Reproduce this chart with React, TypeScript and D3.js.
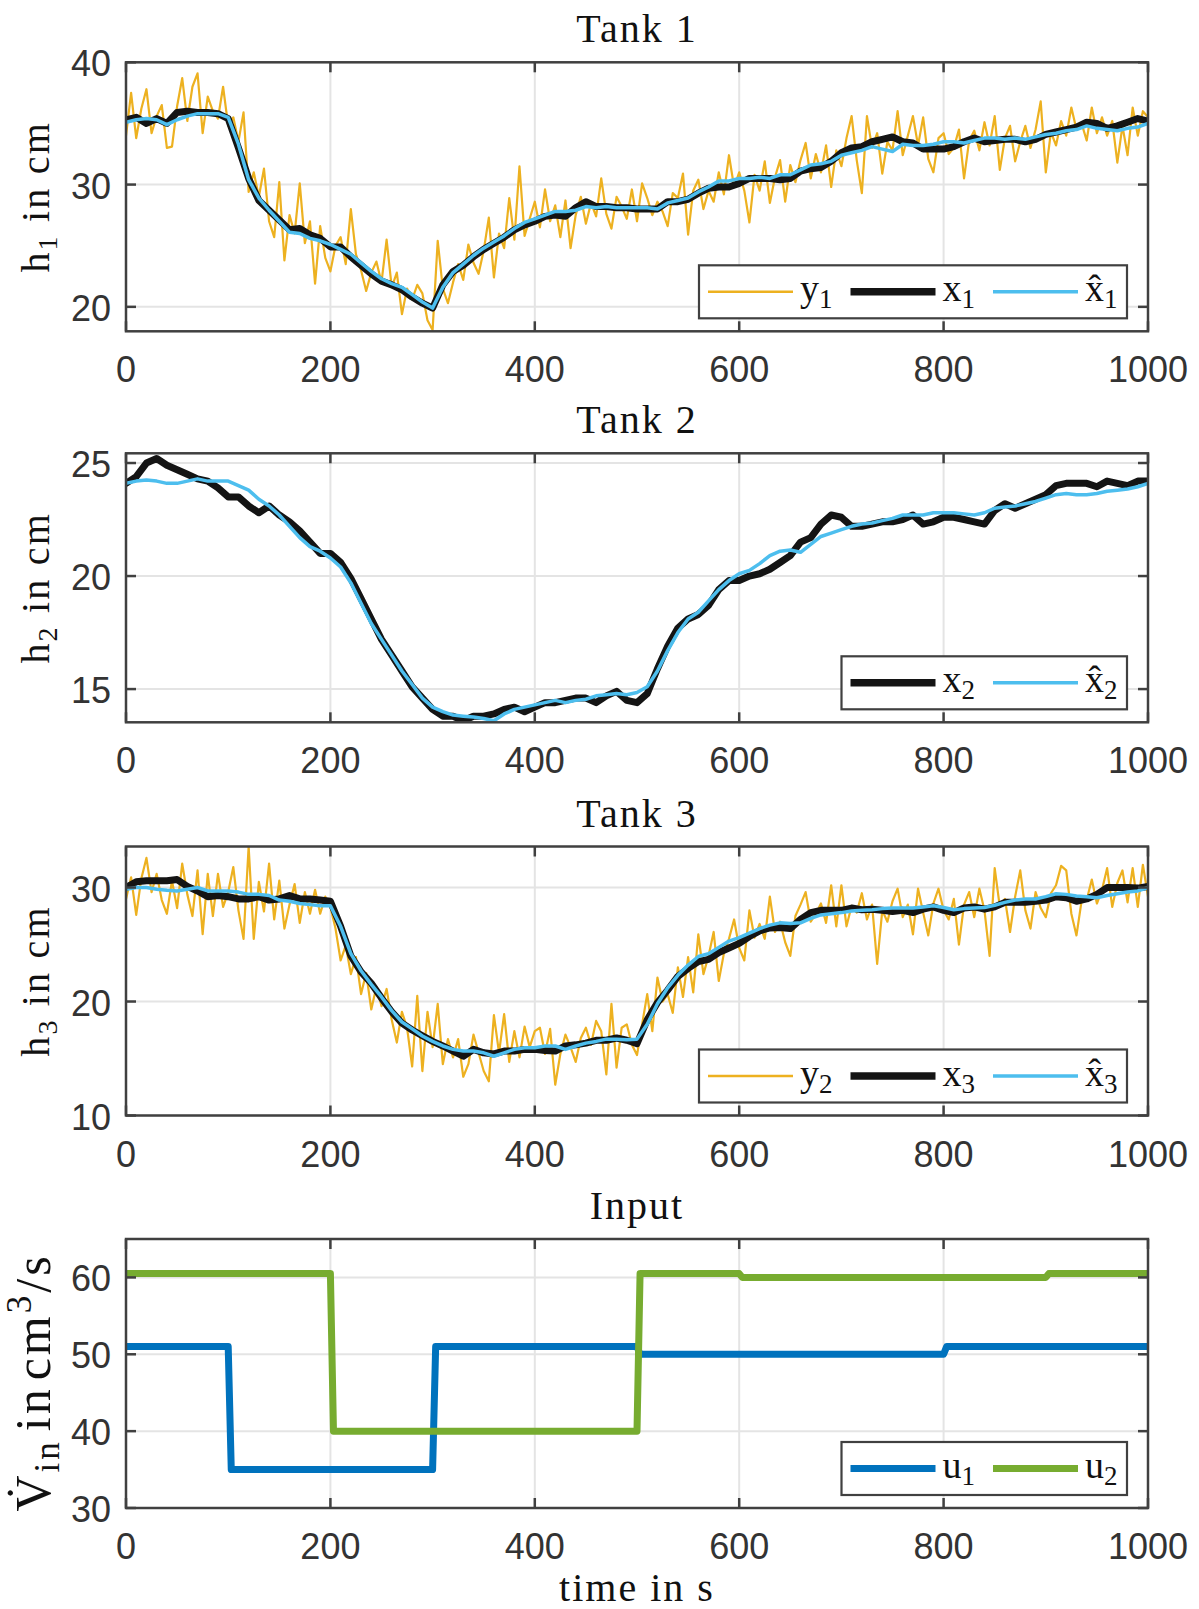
import React from 'react';
import * as d3 from 'd3';

// ---------------- DATA ----------------
// sample step of the noisy measurements (s) and of the states (s)
const FAST_STEP = 5;
const SLOW_STEP = 10;

const xTicks = [0, 200, 400, 600, 800, 1000];

// Tank 1 measurement y1 (every 5 s)
const y1 = [
  34.0, 37.5, 33.8, 36.2, 37.8, 34.2, 35.6, 36.5, 33.0, 33.1,
  36.4, 38.7, 35.2, 38.0, 39.1, 34.2, 37.2, 36.0, 35.4, 38.0,
  34.8, 35.5, 33.5, 35.9, 29.4, 31.0, 29.0, 31.3, 27.0, 25.7,
  30.2, 23.8, 27.5, 26.0, 30.1, 25.2, 27.0, 21.9, 26.6, 24.0,
  22.9, 25.0, 25.7, 23.5, 28.0, 24.3, 23.0, 21.3, 22.8, 23.7,
  22.0, 25.5, 21.6, 22.8, 19.4, 21.5, 20.6, 21.8, 21.1, 18.9,
  18.1, 25.4, 21.5, 20.3, 22.0, 23.5, 22.2, 25.1, 23.6, 22.7,
  24.6, 27.3, 22.4, 26.0, 24.8, 28.9, 25.5, 31.5, 25.8, 27.2,
  28.6, 26.5, 29.6, 27.0, 28.3, 25.7, 28.7, 24.8, 27.5, 29.0,
  26.8, 28.5, 27.4, 30.5, 27.6, 26.4, 29.0, 28.2, 27.2, 29.6,
  27.0, 30.1, 28.9, 27.5, 28.6, 27.8, 26.6, 29.3, 28.9, 30.9,
  25.9, 29.5, 30.4, 28.0, 29.5, 28.6, 31.0, 29.2, 32.4, 29.8,
  31.0, 29.5, 26.9, 30.8, 29.5, 31.9, 28.5, 30.6, 32.0, 28.6,
  31.6, 30.2, 32.0, 33.4, 30.5, 32.5, 31.0, 33.2, 29.8, 32.8,
  31.5, 33.8, 35.6, 32.0, 29.3, 35.6, 33.0, 34.2, 30.9, 33.5,
  32.8, 36.0, 32.4, 34.0, 35.6, 33.2, 35.5, 32.1, 31.0, 33.8,
  34.2, 32.5, 33.0, 34.5, 30.5, 33.6, 34.4, 32.8, 35.1, 33.2,
  35.6, 31.2, 33.8, 34.8, 31.9, 33.5, 34.8, 33.0, 34.5, 36.8,
  31.0, 34.3, 33.2, 35.2, 34.0, 36.3, 34.5, 35.0, 33.6, 36.3,
  34.2, 35.5, 34.0, 35.2, 31.8, 34.8, 32.4, 36.3, 34.0, 36.0,
  35.5,
];

// Tank 1 true state x1 (every 10 s)
const x1 = [
  35.3, 35.5, 35.0, 35.4, 35.0, 35.9, 36.0, 35.9, 35.9, 35.8, 35.4,
  33.0, 30.5, 28.7, 27.9, 27.1, 26.3, 26.4, 25.9, 25.6, 24.9,
  24.9, 24.1, 23.4, 22.7, 22.1, 21.8, 21.4, 20.8, 20.3, 19.9,
  21.8, 22.9, 23.4, 24.1, 24.7, 25.2, 25.7, 26.3, 26.7, 27.0,
  27.4, 27.5, 27.4, 28.1, 28.6, 28.2, 28.2, 28.1, 28.1, 28.0,
  28.0, 28.0, 28.6, 28.6, 28.8, 29.3, 29.7, 29.8, 29.8, 30.1,
  30.5, 30.5, 30.5, 30.4, 30.5, 31.1, 31.3, 31.4, 31.9, 32.6,
  33.0, 33.1, 33.5, 33.7, 33.9, 33.5, 33.4, 32.9, 32.9, 32.9,
  33.1, 33.5, 33.8, 33.5, 33.6, 33.7, 33.7, 33.5, 33.7, 34.1,
  34.3, 34.5, 34.7, 35.1, 35.0, 34.6, 34.8, 35.1, 35.4, 35.2,
];

// Tank 1 estimate x̂1 (every 10 s)
const x1hat = [
  35.1, 35.3, 35.4, 35.3, 34.9, 35.3, 35.6, 35.8, 35.8, 35.8, 35.5,
  33.3, 30.4, 28.9, 27.9, 27.0, 26.1, 26.0, 25.6, 25.4, 25.1,
  24.7, 24.3, 23.6, 22.9, 22.3, 21.9, 21.6, 21.0, 20.4, 19.9,
  21.6, 22.8, 23.5, 24.2, 24.8, 25.3, 25.8, 26.4, 26.9, 27.2,
  27.5, 27.8, 27.8, 27.9, 28.2, 28.1, 28.2, 28.1, 28.1, 28.1,
  28.1, 28.0, 28.5, 28.7, 28.9, 29.4, 29.8, 30.3, 30.3, 30.5,
  30.5, 30.6, 30.5, 30.8, 30.8, 31.2, 31.6, 31.7, 31.9, 32.4,
  32.6, 32.8, 33.1, 32.9, 32.7, 33.3, 33.2, 33.2, 33.3, 33.5,
  33.5, 33.4, 33.6, 33.8, 33.8, 33.7, 33.8, 33.7, 33.9, 34.1,
  34.2, 34.4, 34.5, 34.8, 34.6, 34.5, 34.4, 34.6, 34.7, 35.0,
];

// Tank 2 true state x2 (every 10 s)
const x2 = [
  24.1, 24.4, 25.0, 25.2, 24.9, 24.7, 24.5, 24.3, 24.2, 23.9, 23.5,
  23.5, 23.1, 22.8, 23.1, 22.7, 22.4, 22.0, 21.5, 21.0, 21.0,
  20.6, 19.9, 19.0, 18.1, 17.2, 16.5, 15.8, 15.1, 14.6, 14.1,
  13.8, 13.8, 13.6, 13.8, 13.8, 13.9, 14.1, 14.2, 14.0, 14.2,
  14.4, 14.4, 14.5, 14.6, 14.6, 14.4, 14.7, 14.9, 14.5, 14.4,
  14.8, 15.9, 16.9, 17.7, 18.1, 18.3, 18.7, 19.4, 19.8, 19.8,
  20.0, 20.1, 20.3, 20.6, 20.9, 21.5, 21.7, 22.3, 22.7, 22.6,
  22.2, 22.2, 22.3, 22.4, 22.4, 22.5, 22.7, 22.3, 22.4, 22.6,
  22.6, 22.5, 22.4, 22.3, 22.9, 23.2, 23.0, 23.2, 23.4, 23.6,
  24.0, 24.1, 24.1, 24.1, 23.95, 24.2, 24.1, 24.0, 24.2, 24.2,
];

// Tank 2 estimate x̂2 (every 10 s)
const x2hat = [
  24.1, 24.2, 24.25, 24.2, 24.1, 24.1, 24.2, 24.3, 24.2, 24.2, 24.2,
  24.0, 23.8, 23.4, 23.1, 22.7, 22.2, 21.7, 21.3, 21.1, 20.8,
  20.4, 19.7, 18.8, 17.9, 17.2, 16.5, 15.8, 15.2, 14.6, 14.2,
  14.0, 13.85, 13.8, 13.76, 13.7, 13.6, 13.9, 14.1, 14.2, 14.3,
  14.4, 14.5, 14.4, 14.5, 14.55, 14.7, 14.75, 14.8, 14.75, 14.85,
  15.1, 15.8, 16.7, 17.5, 18.1, 18.4, 18.9, 19.4, 19.8, 20.1,
  20.25, 20.55, 20.9, 21.1, 21.15, 21.05, 21.4, 21.75, 21.9, 22.05,
  22.2, 22.3, 22.35, 22.45, 22.55, 22.7, 22.7, 22.7, 22.8, 22.8,
  22.8, 22.75, 22.7, 22.8, 23.0, 23.05, 23.1, 23.2, 23.3, 23.45,
  23.6, 23.65, 23.6, 23.6, 23.65, 23.75, 23.8, 23.85, 23.95, 24.1,
];

// Tank 3 measurement y2 (every 5 s)
const y2 = [
  29.0, 30.9, 27.6, 30.8, 32.6, 29.6, 31.2, 28.9, 27.7, 30.6,
  28.2, 32.1, 29.4, 27.5, 31.5, 25.9, 31.2, 27.5, 31.2, 28.3,
  29.6, 31.8, 28.0, 25.5, 33.6, 25.5, 30.5, 27.9, 32.1, 27.2,
  30.6, 26.4, 28.5, 30.3, 26.9, 29.6, 27.7, 29.8, 27.7, 29.2,
  28.3, 26.4, 23.6, 24.9, 22.4, 23.9, 20.65, 22.5, 19.3, 21.3,
  19.6, 21.1, 18.4, 16.4, 19.1, 17.7, 14.3, 20.5, 13.9, 19.1,
  16.0, 19.8, 14.5, 16.7, 15.1, 16.7, 13.4, 14.5, 17.1, 15.5,
  13.9, 13.0, 18.8, 15.5, 18.9, 14.7, 17.4, 15.1, 17.8, 16.0,
  17.4, 17.7, 15.4, 17.6, 12.7, 15.4, 17.1, 16.0, 14.7, 16.8,
  17.7, 16.2, 18.3, 17.4, 13.6, 19.8, 14.2, 17.7, 18.0, 16.2,
  15.3, 18.0, 20.65, 17.4, 22.1, 20.0, 20.65, 19.0, 23.0, 20.4,
  23.9, 20.8, 25.9, 22.4, 24.0, 26.1, 21.8, 24.2, 25.5, 27.2,
  24.7, 23.6, 28.0, 25.6, 26.8, 25.5, 29.2, 26.1, 27.0, 25.2,
  24.0, 27.5, 28.5, 29.6, 27.0, 27.7, 28.6, 26.9, 30.2, 26.6,
  30.2, 26.6, 28.4, 27.8, 29.5, 27.2, 28.5, 23.3, 28.0, 27.0,
  28.8, 29.9, 27.4, 28.5, 25.9, 29.9, 27.8, 25.8, 28.6, 29.9,
  28.0, 27.2, 29.0, 25.0, 28.5, 29.6, 27.4, 29.9, 28.0, 24.0,
  31.7, 28.3, 29.0, 26.1, 29.2, 31.5, 28.0, 26.4, 29.6, 28.2,
  27.4, 29.5, 30.2, 31.9, 31.5, 27.7, 25.8, 28.8, 28.9, 30.7,
  28.6, 29.8, 31.7, 28.3, 30.4, 31.5, 28.7, 31.7, 28.3, 32.0,
  29.2,
];

// Tank 3 true state x3 (every 10 s)
const x3 = [
  30.0, 30.5, 30.6, 30.6, 30.6, 30.7, 30.1, 29.7, 29.2, 29.3, 29.2,
  29.0, 29.0, 29.2, 28.9, 29.0, 29.3, 29.0, 29.0, 28.9, 28.8,
  26.6, 24.0, 22.6, 21.6, 20.3, 19.1, 18.1, 17.5, 17.0, 16.5,
  16.1, 15.65, 15.2, 15.8, 15.5, 15.4, 15.65, 15.65, 15.8, 15.8,
  15.7, 15.65, 16.1, 16.2, 16.35, 16.6, 16.6, 16.8, 16.6, 16.3,
  18.4, 19.9, 21.0, 22.2, 22.9, 23.5, 23.7, 24.3, 24.7, 25.1,
  25.7, 26.2, 26.45, 26.5, 26.4, 27.2, 27.8, 28.0, 28.0, 28.0,
  28.2, 28.05, 28.1, 28.0, 27.9, 28.0, 27.8, 28.1, 28.3, 28.0,
  27.8, 28.2, 28.3, 28.1, 28.3, 28.7, 28.7, 28.7, 28.8, 28.9,
  29.2, 29.1, 28.8, 29.0, 29.4, 30.0, 30.0, 30.0, 29.95, 30.1,
];

// Tank 3 estimate x̂3 (every 10 s)
const x3hat = [
  29.85, 30.0, 30.0, 29.85, 29.76, 29.7, 29.85, 30.0, 29.7, 29.7, 29.7,
  29.6, 29.4, 29.4, 29.3, 28.9, 28.8, 28.6, 28.5, 28.4, 28.4,
  26.6, 24.2, 22.7, 21.5, 20.4, 19.2, 18.2, 17.6, 16.97, 16.5,
  16.1, 15.8, 15.65, 15.65, 15.5, 15.2, 15.5, 15.8, 15.95, 15.95,
  16.1, 16.1, 15.8, 16.1, 16.35, 16.5, 16.7, 16.7, 16.65, 16.7,
  18.0, 19.8, 21.2, 22.3, 23.2, 23.95, 24.2, 24.75, 25.3, 25.6,
  26.0, 26.4, 26.7, 26.9, 26.85, 26.9, 27.3, 27.6, 27.7, 27.8,
  27.95, 28.0, 28.05, 28.15, 28.2, 28.2, 28.2, 28.3, 28.4, 28.25,
  28.05, 28.15, 28.2, 28.25, 28.45, 28.7, 28.9, 29.0, 29.0, 29.2,
  29.45, 29.4, 29.25, 29.2, 29.1, 29.3, 29.45, 29.6, 29.7, 30.0,
];

// Inputs (breakpoints)
const u1Time = [0, 100, 103, 300, 303, 500, 503, 800, 803, 1000];
const u1Val = [51, 51, 35, 35, 51, 51, 50, 50, 51, 51];
const u2Time = [0, 200, 203, 500, 503, 600, 603, 900, 903, 1000];
const u2Val = [60.5, 60.5, 40, 40, 60.5, 60.5, 60, 60, 60.5, 60.5];

// ---------------- STYLE ----------------
const W = 1199;
const H = 1609;
const X_LEFT = 126;
const X_RIGHT = 1148;
const PLOT_H = 269;
const SERIF = '"Liberation Serif", "Times New Roman", serif';
const SANS = '"Liberation Sans", Arial, Helvetica, sans-serif';
const AX = '#404040';
const TXT = '#333333';
const GRID = '#e4e4e4';
const YEL = '#EDB120';
const BLK = '#141414';
const LBLUE = '#4DBEEE';
const C_U1 = '#0072BD';
const C_U2 = '#77AC30';

const fastT = y1.map((_, i) => i * FAST_STEP);
const slowT = x1.map((_, i) => i * SLOW_STEP);

type Series = { t: number[]; v: number[]; color: string; w: number };
type LegendItem = { base: string; sub: string; hat?: boolean; color: string; w: number };
type Panel = {
  title: string;
  top: number;
  domain: [number, number];
  ticks: number[];
  ylabel: 'h1' | 'h2' | 'h3' | 'vin';
  series: Series[];
  legend: LegendItem[];
};

const panels: Panel[] = [
  {
    title: 'Tank 1', top: 62.3, domain: [18, 40], ticks: [20, 30, 40], ylabel: 'h1',
    series: [
      { t: fastT, v: y1, color: YEL, w: 2.2 },
      { t: slowT, v: x1, color: BLK, w: 7 },
      { t: slowT, v: x1hat, color: LBLUE, w: 3.5 },
    ],
    legend: [
      { base: 'y', sub: '1', color: YEL, w: 2.5 },
      { base: 'x', sub: '1', color: BLK, w: 7.5 },
      { base: 'x', sub: '1', hat: true, color: LBLUE, w: 3.5 },
    ],
  },
  {
    title: 'Tank 2', top: 453.3, domain: [13.53, 25.43], ticks: [15, 20, 25], ylabel: 'h2',
    series: [
      { t: slowT, v: x2, color: BLK, w: 7 },
      { t: slowT, v: x2hat, color: LBLUE, w: 3.5 },
    ],
    legend: [
      { base: 'x', sub: '2', color: BLK, w: 7.5 },
      { base: 'x', sub: '2', hat: true, color: LBLUE, w: 3.5 },
    ],
  },
  {
    title: 'Tank 3', top: 846.5, domain: [10, 33.6], ticks: [10, 20, 30], ylabel: 'h3',
    series: [
      { t: fastT, v: y2, color: YEL, w: 2.2 },
      { t: slowT, v: x3, color: BLK, w: 7 },
      { t: slowT, v: x3hat, color: LBLUE, w: 3.5 },
    ],
    legend: [
      { base: 'y', sub: '2', color: YEL, w: 2.5 },
      { base: 'x', sub: '3', color: BLK, w: 7.5 },
      { base: 'x', sub: '3', hat: true, color: LBLUE, w: 3.5 },
    ],
  },
  {
    title: 'Input', top: 1239, domain: [30, 65], ticks: [30, 40, 50, 60], ylabel: 'vin',
    series: [
      { t: u1Time, v: u1Val, color: C_U1, w: 7 },
      { t: u2Time, v: u2Val, color: C_U2, w: 7 },
    ],
    legend: [
      { base: 'u', sub: '1', color: C_U1, w: 7 },
      { base: 'u', sub: '2', color: C_U2, w: 7 },
    ],
  },
];

const xScale = d3.scaleLinear().domain([0, 1000]).range([X_LEFT, X_RIGHT]);

function YLabel({ kind, cy }: { kind: Panel['ylabel']; cy: number }) {
  if (kind === 'vin') {
    return (
      <text
        transform={`translate(50,${cy + 9}) rotate(-90)`}
        textAnchor="middle"
        fontFamily={SERIF}
        fontSize={50}
        fill="#111"
        letterSpacing={3}
      >
        {'V\u0307'}
        <tspan dy={9} fontSize={35}>in</tspan>
        <tspan dy={-9} dx={8}>in</tspan>
        <tspan dx={6}>cm</tspan>
        <tspan dy={-19} fontSize={35}>3</tspan>
        <tspan dy={19}>/s</tspan>
      </text>
    );
  }
  const sub = kind.slice(1);
  return (
    <text
      transform={`translate(49,${cy}) rotate(-90)`}
      textAnchor="middle"
      fontFamily={SERIF}
      fontSize={40}
      fill="#111"
      letterSpacing={2.2}
    >
      h
      <tspan dy={8} fontSize={28}>{sub}</tspan>
      <tspan dy={-8}>{' in cm'}</tspan>
    </text>
  );
}

function PanelView({ p, idx }: { p: Panel; idx: number }) {
  const bottom = p.top + PLOT_H;
  const y = d3.scaleLinear().domain(p.domain).range([bottom, p.top]);
  const clipId = `clip-${idx}`;
  const line = (s: Series) =>
    d3
      .line<number>()
      .x((_, i) => xScale(s.t[i]))
      .y((d) => y(d))(s.v) || '';

  // legend geometry
  const n = p.legend.length;
  const ENTRY = 142.5;
  const boxW = 9 + (n - 1) * ENTRY + 134;
  const boxH = 53;
  const boxRight = X_RIGHT - 21;
  const boxLeft = boxRight - boxW;
  const boxTop = bottom - 13 - boxH;

  const tickLen = 10;
  return (
    <g>
      <defs>
        <clipPath id={clipId}>
          <rect x={X_LEFT} y={p.top} width={X_RIGHT - X_LEFT} height={PLOT_H} />
        </clipPath>
      </defs>
      {/* grid */}
      {xTicks.slice(1, -1).map((t) => (
        <line key={'gx' + t} x1={xScale(t)} x2={xScale(t)} y1={p.top} y2={bottom} stroke={GRID} strokeWidth={2} />
      ))}
      {p.ticks.map((v) => (
        <line key={'gy' + v} x1={X_LEFT} x2={X_RIGHT} y1={y(v)} y2={y(v)} stroke={GRID} strokeWidth={2} />
      ))}
      {/* data */}
      <g clipPath={`url(#${clipId})`}>
        {p.series.map((s, i) => (
          <path key={i} d={line(s)} fill="none" stroke={s.color} strokeWidth={s.w} strokeLinejoin="round" strokeLinecap="round" />
        ))}
      </g>
      {/* box */}
      <rect x={X_LEFT} y={p.top} width={X_RIGHT - X_LEFT} height={PLOT_H} fill="none" stroke={AX} strokeWidth={2.5} />
      {/* ticks */}
      {xTicks.map((t) => (
        <g key={'tx' + t}>
          <line x1={xScale(t)} x2={xScale(t)} y1={bottom} y2={bottom - tickLen} stroke={AX} strokeWidth={2.5} />
          <line x1={xScale(t)} x2={xScale(t)} y1={p.top} y2={p.top + tickLen} stroke={AX} strokeWidth={2.5} />
          <text x={xScale(t)} y={bottom + 51} textAnchor="middle" fontFamily={SANS} fontSize={36} fill={TXT}>
            {t}
          </text>
        </g>
      ))}
      {p.ticks.map((v) => (
        <g key={'ty' + v}>
          <line x1={X_LEFT} x2={X_LEFT + tickLen} y1={y(v)} y2={y(v)} stroke={AX} strokeWidth={2.5} />
          <line x1={X_RIGHT} x2={X_RIGHT - tickLen} y1={y(v)} y2={y(v)} stroke={AX} strokeWidth={2.5} />
          <text x={X_LEFT - 15} y={y(v) + 14} textAnchor="end" fontFamily={SANS} fontSize={36} fill={TXT}>
            {v}
          </text>
        </g>
      ))}
      {/* title */}
      <text x={(X_LEFT + X_RIGHT) / 2} y={p.top - 20} textAnchor="middle" fontFamily={SERIF} fontSize={40} fill="#111" letterSpacing={2}>
        {p.title}
      </text>
      <YLabel kind={p.ylabel} cy={(p.top + bottom) / 2} />
      {/* legend */}
      <rect x={boxLeft} y={boxTop} width={boxW} height={boxH} fill="#fff" stroke={AX} strokeWidth={2.2} />
      {p.legend.map((it, i) => {
        const sx = boxLeft + 9 + i * ENTRY;
        return (
          <g key={'lg' + i}>
            <line x1={sx} x2={sx + 85} y1={boxTop + 26.5} y2={boxTop + 26.5} stroke={it.color} strokeWidth={it.w} />
            <text x={sx + 92} y={boxTop + 36} fontFamily={SERIF} fontSize={38} fill="#111">
              {it.hat ? 'x\u0302' : it.base}
              <tspan dy={7} fontSize={27}>{it.sub}</tspan>
            </text>
          </g>
        );
      })}
    </g>
  );
}

export default function App() {
  return (
    <svg
      width={W}
      height={H}
      viewBox={`0 0 ${W} ${H}`}
      style={{ position: 'absolute', left: 0, top: 0, background: '#fff', display: 'block' }}
    >
      <rect x={0} y={0} width={W} height={H} fill="#fff" />
      {panels.map((p, i) => (
        <PanelView key={i} p={p} idx={i} />
      ))}
      <text x={(X_LEFT + X_RIGHT) / 2} y={1601} textAnchor="middle" fontFamily={SERIF} fontSize={40} fill="#111" letterSpacing={2}>
        time in s
      </text>
    </svg>
  );
}
